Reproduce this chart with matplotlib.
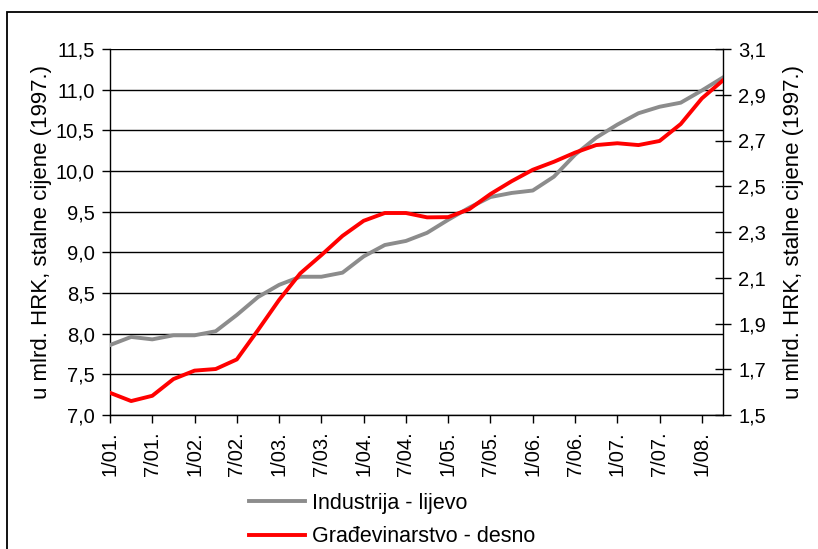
import matplotlib
matplotlib.use("Agg")
import matplotlib.pyplot as plt
from matplotlib.patches import Rectangle
from matplotlib.ticker import FixedLocator, FuncFormatter

# ---- data ----
periods = ["1/01.", "4/01.", "7/01.", "10/01.", "1/02.", "4/02.", "7/02.", "10/02.",
           "1/03.", "4/03.", "7/03.", "10/03.", "1/04.", "4/04.", "7/04.", "10/04.",
           "1/05.", "4/05.", "7/05.", "10/05.", "1/06.", "4/06.", "7/06.", "10/06.",
           "1/07.", "4/07.", "7/07.", "10/07.", "1/08.", "4/08."]
industrija = [7.86, 7.96, 7.93, 7.98, 7.98, 8.03, 8.23, 8.45, 8.60, 8.70,
              8.70, 8.75, 8.95, 9.09, 9.14, 9.24, 9.40, 9.55, 9.68, 9.73,
              9.76, 9.93, 10.20, 10.41, 10.57, 10.71, 10.79, 10.84, 10.99, 11.15]
gradjevinarstvo = [1.597, 1.561, 1.584, 1.657, 1.694, 1.701, 1.743, 1.871, 2.003, 2.119,
                   2.199, 2.283, 2.349, 2.383, 2.383, 2.364, 2.365, 2.400, 2.466, 2.522,
                   2.572, 2.607, 2.647, 2.680, 2.688, 2.680, 2.698, 2.772, 2.884, 2.963]
left_ticks = [7.0, 7.5, 8.0, 8.5, 9.0, 9.5, 10.0, 10.5, 11.0, 11.5]
right_ticks = [1.5, 1.7, 1.9, 2.1, 2.3, 2.5, 2.7, 2.9, 3.1]
label_left = "Industrija - lijevo"
label_right = "Građevinarstvo - desno"
ylabel = "u mlrd. HRK, stalne cijene (1997.)"

plt.rcParams['font.family'] = ['Liberation Sans', 'DejaVu Sans']
FS_TICK = 14.5
FS_LAB = 16
FS_LEG = 15.5

W, H = 818, 549
fig = plt.figure(figsize=(W / 100, H / 100), dpi=100)
ax = fig.add_axes([110 / W, 1 - 415 / H, (723 - 110) / W, (415 - 49) / H])
ax2 = ax.twinx()

x = list(range(len(periods)))
comma = FuncFormatter(lambda v, p: f"{v:.1f}".replace(".", ","))

# gridlines at left ticks
for v in left_ticks:
    ax.axhline(v, color='black', lw=1.0, zorder=1)

l1, = ax.plot(x, industrija, color='#8c8c8c', lw=2.8, zorder=3)
l2, = ax2.plot(x, gradjevinarstvo, color='#ff0000', lw=2.8, zorder=3)

ax.set_xlim(0, len(periods) - 1)
ax.set_ylim(7.0, 11.5)
ax2.set_ylim(1.5, 3.1)

ax.yaxis.set_major_locator(FixedLocator(left_ticks))
ax.yaxis.set_major_formatter(comma)
ax2.yaxis.set_major_locator(FixedLocator(right_ticks))
ax2.yaxis.set_major_formatter(comma)

xt = x[::2]
ax.set_xticks(xt)
ax.set_xticklabels([periods[i] for i in xt], rotation=90, fontsize=FS_TICK)

ax.tick_params(axis='y', direction='out', length=6, width=1, pad=5, labelsize=FS_TICK)
ax.tick_params(axis='x', direction='out', length=6, width=1, pad=6, labelsize=FS_TICK)
ax2.tick_params(axis='y', direction='inout', length=12, width=1, pad=5, labelsize=FS_TICK)

for a in (ax, ax2):
    a.spines['top'].set_visible(False)
    for s in ('left', 'right', 'bottom'):
        a.spines[s].set_linewidth(1.0)
ax.spines['right'].set_visible(False)
ax2.spines['left'].set_visible(False)
ax2.spines['bottom'].set_visible(False)

ax.set_ylabel(ylabel, fontsize=FS_LAB, labelpad=3)
ax2.set_ylabel(ylabel, fontsize=FS_LAB, labelpad=12, rotation=90)

fig.legend([l1, l2], [label_left, label_right], loc='upper left',
           bbox_to_anchor=(249 / W, 1 - 493 / H), frameon=False, fontsize=FS_LEG,
           handlelength=2.6, handletextpad=0.33, labelspacing=0.57, borderpad=0,
           borderaxespad=0)

# outer frame (partly cut off)
fig.patches.append(Rectangle((7 / W, -0.05), 1.2, 1 - 12 / H + 0.05,
                             transform=fig.transFigure, fill=False,
                             edgecolor='black', lw=1.3))

fig.savefig("out.png", dpi=100)
